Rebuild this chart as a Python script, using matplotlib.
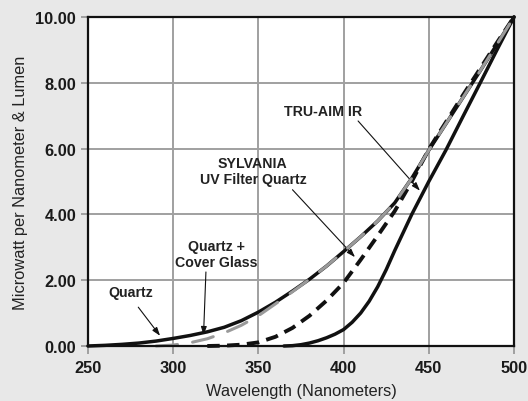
import matplotlib.pyplot as plt

plt.rcParams['font.family'] = ['Liberation Sans', 'DejaVu Sans']

# curves (wavelength nm, microwatt per nm & lumen)
quartz_wl = [250, 260, 270, 280, 290, 300, 310, 320, 330, 340, 350, 360, 370,
             380, 390, 400, 410, 420, 430, 440, 450, 460, 470, 480, 490, 500]
quartz_val = [0.0, 0.02, 0.05, 0.09, 0.15, 0.23, 0.32, 0.43, 0.57, 0.77, 1.03,
              1.33, 1.67, 2.03, 2.43, 2.87, 3.32, 3.8, 4.35, 5.1, 5.95, 6.75,
              7.55, 8.35, 9.17, 10.0]

cover_wl = [290, 300, 310, 320, 330, 340, 350, 360, 370, 380, 390, 400, 410,
            420, 430, 440, 450, 460, 470, 480, 490, 500]
cover_val = [0.0, 0.03, 0.1, 0.22, 0.4, 0.63, 0.92, 1.28, 1.65, 2.03, 2.43,
             2.87, 3.32, 3.8, 4.35, 5.1, 5.95, 6.75, 7.55, 8.35, 9.17, 10.0]

sylvania_wl = [320, 330, 340, 350, 360, 370, 380, 390, 400, 410, 420, 430, 440,
               450, 460, 470, 480, 490, 500]
sylvania_val = [0.0, 0.01, 0.04, 0.11, 0.28, 0.55, 0.92, 1.38, 1.92, 2.62,
                3.35, 4.1, 5.0, 5.98, 6.8, 7.62, 8.42, 9.22, 10.0]

truaim_wl = [365, 370, 375, 380, 385, 390, 395, 400, 405, 410, 415, 420, 425,
             430, 440, 450, 460, 470, 480, 490, 500]
truaim_val = [0.0, 0.01, 0.04, 0.09, 0.16, 0.25, 0.36, 0.5, 0.72, 1.0, 1.36,
              1.8, 2.32, 2.9, 4.0, 5.0, 5.95, 6.97, 7.98, 9.0, 10.0]

x_ticks = [250, 300, 350, 400, 450, 500]
y_ticks = [0, 2, 4, 6, 8, 10]

bg = '#e8e8e8'
grid_c = '#a0a0a0'

fig = plt.figure(figsize=(5.28, 4.02), dpi=100, facecolor=bg)
ax = fig.add_axes([88/528, 55/402, 426/528, 329/402])
ax.set_facecolor('white')

ax.plot(truaim_wl, truaim_val, color='#111111', lw=2.5, clip_on=False,
        solid_capstyle='round', solid_joinstyle='round', zorder=3)
ax.plot(quartz_wl, quartz_val, color='#111111', lw=2.5, clip_on=False,
        solid_capstyle='round', solid_joinstyle='round', zorder=3)
ax.plot(sylvania_wl, sylvania_val, color='#111111', lw=2.8, clip_on=False,
        dashes=(3.2, 1.9), zorder=4)
ax.plot(cover_wl, cover_val, color='#9a9a9a', lw=2.2, clip_on=False,
        dashes=(7, 5), dash_capstyle='round', zorder=5)

ax.set_xlim(250, 500)
ax.set_ylim(0, 10)
ax.set_xticks(x_ticks)
ax.set_yticks(y_ticks)
ax.set_yticklabels(['%.2f' % v for v in y_ticks])
ax.grid(True, color=grid_c, lw=1.4)
ax.set_axisbelow(True)
ax.tick_params(axis='x', length=6, width=1.4, color=grid_c, pad=4,
               labelsize=11.8, labelcolor='#1a1a1a')
ax.tick_params(axis='y', length=5, width=1.4, color=grid_c, pad=3.5,
               labelsize=11.8, labelcolor='#1a1a1a')
for lab in ax.get_xticklabels() + ax.get_yticklabels():
    lab.set_fontweight('bold')
for s in ax.spines.values():
    s.set_linewidth(1.6)
    s.set_color('#111111')
    s.set_zorder(6)

ax.set_xlabel('Wavelength (Nanometers)', fontsize=11.8, color='#222222',
              labelpad=6)
ax.set_ylabel('Microwatt per Nanometer & Lumen', fontsize=11.8,
              color='#222222', labelpad=5)

arrow = dict(arrowstyle='-|>,head_length=0.5,head_width=0.17', color='#111111',
             lw=0.8, shrinkA=0, shrinkB=0)
txt = dict(fontsize=10.2, fontweight='bold', color='#222222', ha='center',
           va='center', linespacing=1.15)

ax.text(387.8, 7.14, 'TRU-AIM IR', **txt)
ax.annotate('', xy=(444.8, 4.72), xytext=(408.5, 6.84), arrowprops=arrow)
ax.text(346.8, 5.32, 'SYLVANIA\nUV Filter Quartz', **txt)
ax.annotate('', xy=(406.7, 2.7), xytext=(370.0, 4.75), arrowprops=arrow)
ax.text(325.4, 2.8, 'Quartz +\nCover Glass', **txt)
ax.annotate('', xy=(317.8, 0.33), xytext=(319.2, 2.25), arrowprops=arrow)
ax.text(274.9, 1.65, 'Quartz', **txt)
ax.annotate('', xy=(292.3, 0.31), xytext=(279.5, 1.18), arrowprops=arrow)

fig.savefig('out.png', dpi=100, facecolor=bg)
